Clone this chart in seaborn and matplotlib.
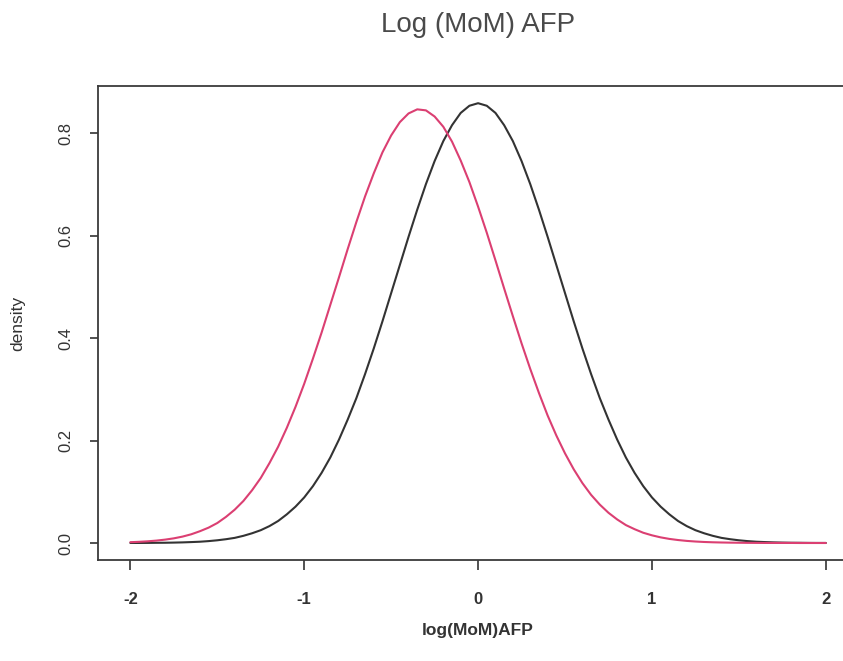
import numpy as np
import pandas as pd
import matplotlib
matplotlib.use("Agg")
import matplotlib.pyplot as plt
import seaborn as sns

# ---- data ----
x_grid = [round(-2.0 + 0.05 * i, 2) for i in range(81)]

# black curve (centred at 0), values for |x| = 0, 0.05, ..., 2.0
black_half = [0.859, 0.854, 0.840, 0.816, 0.785, 0.746, 0.701, 0.651, 0.598, 0.543,
              0.488, 0.433, 0.380, 0.330, 0.283, 0.241, 0.202, 0.167, 0.137, 0.111,
              0.089, 0.071, 0.056, 0.043, 0.033, 0.025, 0.019, 0.014, 0.010, 0.0074,
              0.0053, 0.0037, 0.0025, 0.0018, 0.0012, 0.0008, 0.0005, 0.0004, 0.0002, 0.0001,
              0.0001]
black_y = black_half[::-1] + black_half[1:]

# pink curve, x = -2.0 ... 2.0 step 0.05
pink_y = [0.0016, 0.0023, 0.0033, 0.0047, 0.0066, 0.0091, 0.0125, 0.017, 0.023, 0.030,
          0.039, 0.051, 0.065, 0.082, 0.103, 0.127, 0.156, 0.188, 0.225, 0.266,
          0.311, 0.360, 0.411, 0.465, 0.519, 0.574, 0.627, 0.677, 0.722, 0.763,
          0.796, 0.822, 0.839, 0.847, 0.845, 0.833, 0.813, 0.784, 0.747, 0.705,
          0.657, 0.606, 0.552, 0.497, 0.443, 0.390, 0.340, 0.293, 0.249, 0.210,
          0.175, 0.144, 0.117, 0.094, 0.075, 0.059, 0.046, 0.035, 0.027, 0.020,
          0.015, 0.011, 0.0080, 0.0058, 0.0041, 0.0029, 0.0020, 0.0014, 0.0010, 0.0007,
          0.0005, 0.0003, 0.0002, 0.0001, 0.0001, 0.0001, 0.0001, 0.0, 0.0, 0.0,
          0.0]

x_ticks = [-2, -1, 0, 1, 2]
x_tick_labels = ["-2", "-1", "0", "1", "2"]
y_ticks = [0.0, 0.2, 0.4, 0.6, 0.8]
y_tick_labels = ["0.0", "0.2", "0.4", "0.6", "0.8"]

title = "Log (MoM) AFP"
x_label = "log(MoM)AFP"
y_label = "density"

df = pd.concat([
    pd.DataFrame({"x": x_grid, "density": black_y, "group": "black"}),
    pd.DataFrame({"x": x_grid, "density": pink_y, "group": "pink"}),
])

sns.set_style("white")
plt.rcParams["font.family"] = ["Liberation Sans", "DejaVu Sans"]

fig = plt.figure(figsize=(8.43, 6.61), dpi=100)
# axes: left 98px, right 858px (beyond figure edge), top 86px, bottom 560px
W, H = 843.0, 661.0
ax = fig.add_axes([98 / W, 1 - 560 / H, 760 / W, 474 / H])

sns.lineplot(data=df, x="x", y="density", hue="group",
             palette={"black": "#333333", "pink": "#DB3F72"},
             linewidth=1.5, legend=False, ax=ax, sort=False,
             solid_joinstyle="round", solid_capstyle="round")

ax.set_xlim(-2.186, 2.185)
ax.set_ylim(-0.0332, 0.8926)

ax.set_xticks(x_ticks)
ax.set_xticklabels(x_tick_labels, fontsize=12, fontweight="bold", color="#333333")
ax.set_yticks(y_ticks)
ax.set_yticklabels(y_tick_labels, fontsize=12, rotation=90, va="center", color="#333333")

ax.tick_params(axis="x", direction="out", length=7, width=1.2, color="#333333", pad=16, bottom=True)
ax.tick_params(axis="y", direction="out", length=6, width=1.2, color="#333333", pad=12, left=True)

for side in ["left", "top", "bottom", "right"]:
    ax.spines[side].set_color("#3a3a3a")
    ax.spines[side].set_linewidth(1.3)

ax.set_xlabel(x_label, fontsize=12.5, fontweight="bold", color="#333333")
ax.xaxis.label.set_va("center")
ax.xaxis.set_label_coords(0.5, (560 - 631) / 474.0)
ax.set_ylabel(y_label, fontsize=12.5, color="#333333")
ax.yaxis.label.set_va("center")
ax.yaxis.set_label_coords((18 - 98) / 760.0, 0.5)

ax.set_title(title, fontsize=20, color="#4a4a4a", y=1 + (86 - 33) / 474.0, va="center")

fig.savefig("out.png", dpi=100, facecolor="white")
